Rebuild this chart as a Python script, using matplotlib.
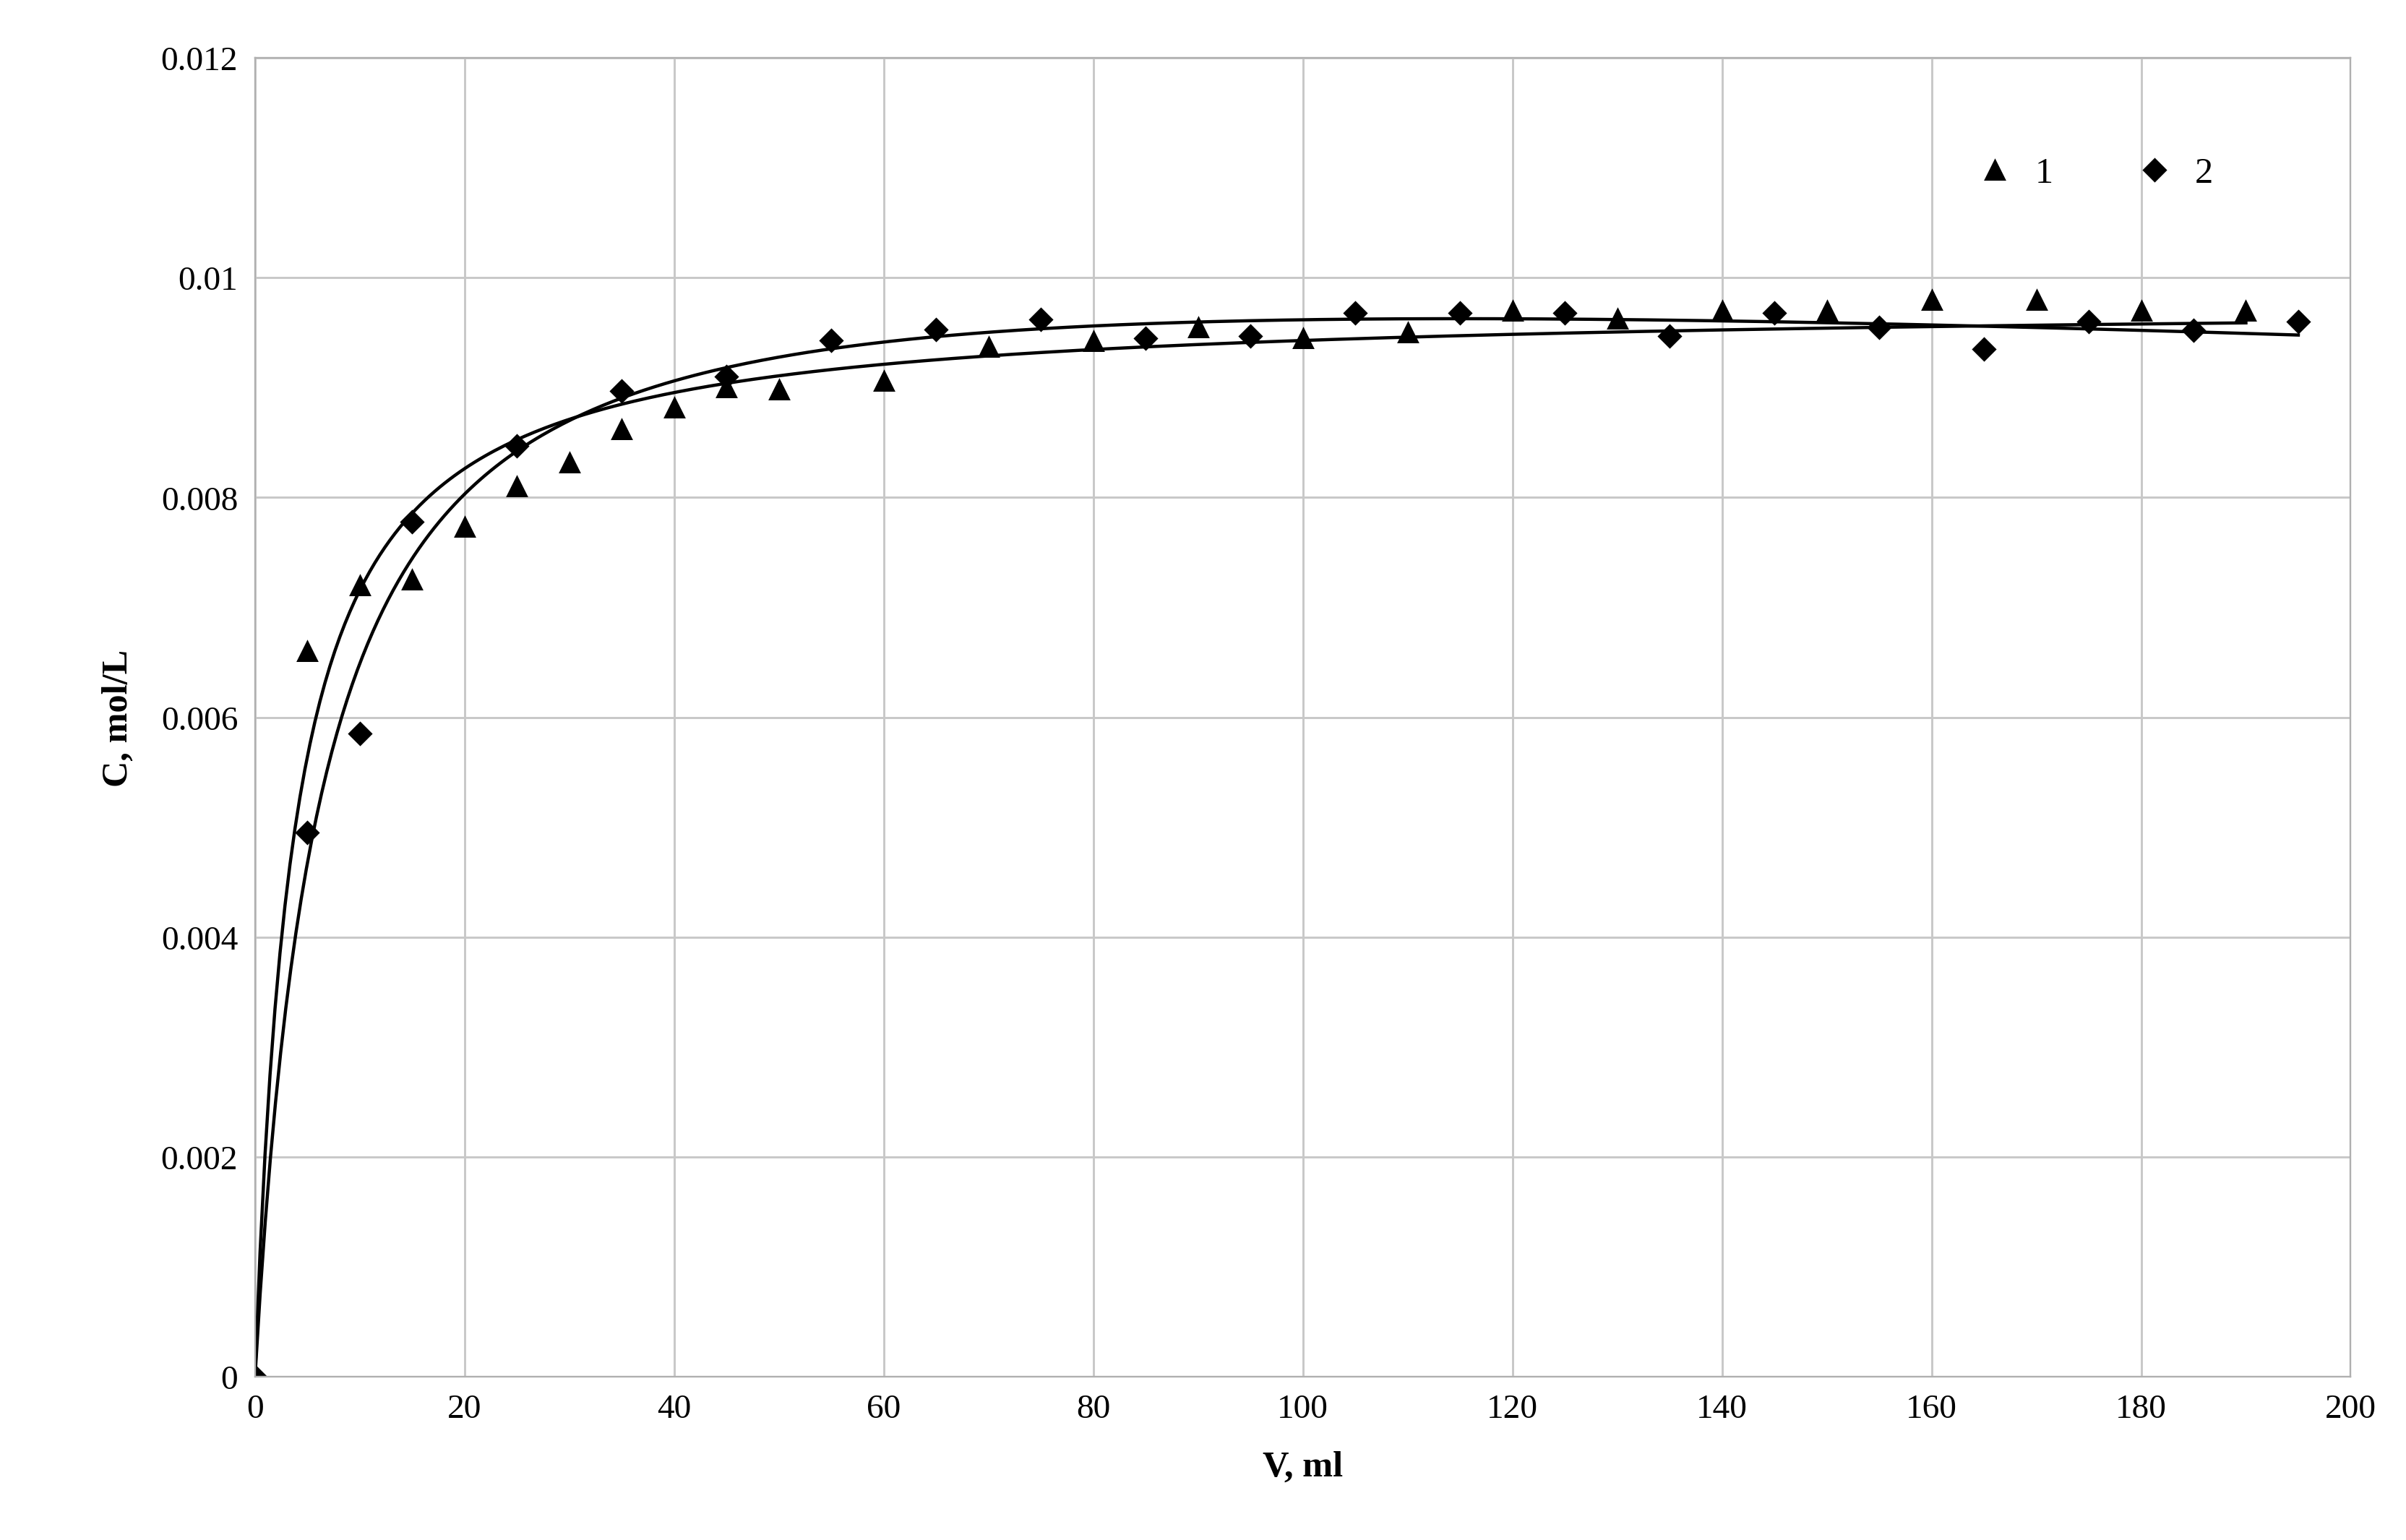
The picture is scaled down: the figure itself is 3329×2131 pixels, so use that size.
import numpy as np
import matplotlib
matplotlib.use("Agg")
import matplotlib.pyplot as plt

plt.rcParams['font.family'] = ['Liberation Serif', 'DejaVu Serif']

# series 1 (triangles)
v1 = [0, 5, 10, 15, 20, 25, 30, 35, 40, 45, 50, 60, 70, 80, 90, 100, 110, 120,
      130, 140, 150, 160, 170, 180, 190]
c1 = [0, 0.0066, 0.0072, 0.00725, 0.00773, 0.0081, 0.00832, 0.00862, 0.00882,
      0.0090, 0.00898, 0.00906, 0.00937, 0.00942, 0.00955, 0.00945, 0.0095,
      0.0097, 0.00963, 0.0097, 0.0097, 0.0098, 0.0098, 0.0097, 0.0097]
# series 2 (diamonds)
v2 = [0, 5, 10, 15, 25, 35, 45, 55, 65, 75, 85, 95, 105, 115, 125, 135, 145,
      155, 165, 175, 185, 195]
c2 = [0, 0.00495, 0.00585, 0.00778, 0.00847, 0.00897, 0.0091, 0.00943, 0.00953,
      0.00962, 0.00945, 0.00947, 0.00968, 0.00968, 0.00968, 0.00947, 0.00968,
      0.00955, 0.00935, 0.0096, 0.00952, 0.0096]


def trend(v, c, linear=True):
    # fit C = a*V/(b+V) (+ k*V), b by grid search
    v = np.asarray(v, float)
    c = np.asarray(c, float)
    best = None
    for b in np.linspace(0.5, 30, 300):
        cols = [v / (b + v)] + ([v] if linear else [])
        A = np.column_stack(cols)
        coef, *_ = np.linalg.lstsq(A, c, rcond=None)
        err = np.sum((A @ coef - c) ** 2)
        if best is None or err < best[0]:
            best = (err, b, coef)
    _, b, coef = best
    x = np.linspace(0, v.max(), 400)
    y = coef[0] * x / (b + x) + (coef[1] * x if linear else 0)
    return x, y


fig, ax = plt.subplots(figsize=(15.6, 9.99), dpi=213.4)
fig.subplots_adjust(left=0.106, right=0.977, top=0.962, bottom=0.106)

for v, c, lin in ((v1, c1, False), (v2, c2, True)):
    x, y = trend(v, c, lin)
    ax.plot(x, y, color='black', lw=1.5)

ax.plot(v1, c1, '^', color='black', ms=9, ls='none', label='1')
ax.plot(v2, c2, 'D', color='black', ms=7, ls='none', label='2')

ax.set_xlim(0, 200)
ax.set_ylim(0, 0.012)
ax.set_xticks(np.arange(0, 201, 20))
ax.set_yticks([0, 0.002, 0.004, 0.006, 0.008, 0.01, 0.012])
ax.set_yticklabels(['0', '0.002', '0.004', '0.006', '0.008', '0.01', '0.012'])
ax.grid(True, color='#c8c8c8', lw=1)
ax.set_axisbelow(True)
for s in ax.spines.values():
    s.set_color('#b0b0b0')
ax.tick_params(length=0, labelsize=16, pad=8)
ax.set_xlabel('V, ml', fontsize=17, fontweight='bold', labelpad=12)
ax.set_ylabel('C, mol/L', fontsize=17, fontweight='bold', labelpad=12)
ax.legend(loc='upper right', bbox_to_anchor=(0.95, 0.95), ncol=2, frameon=False,
          fontsize=17, handletextpad=0.1, columnspacing=1.8)

fig.savefig('out.png', dpi=213.4)
